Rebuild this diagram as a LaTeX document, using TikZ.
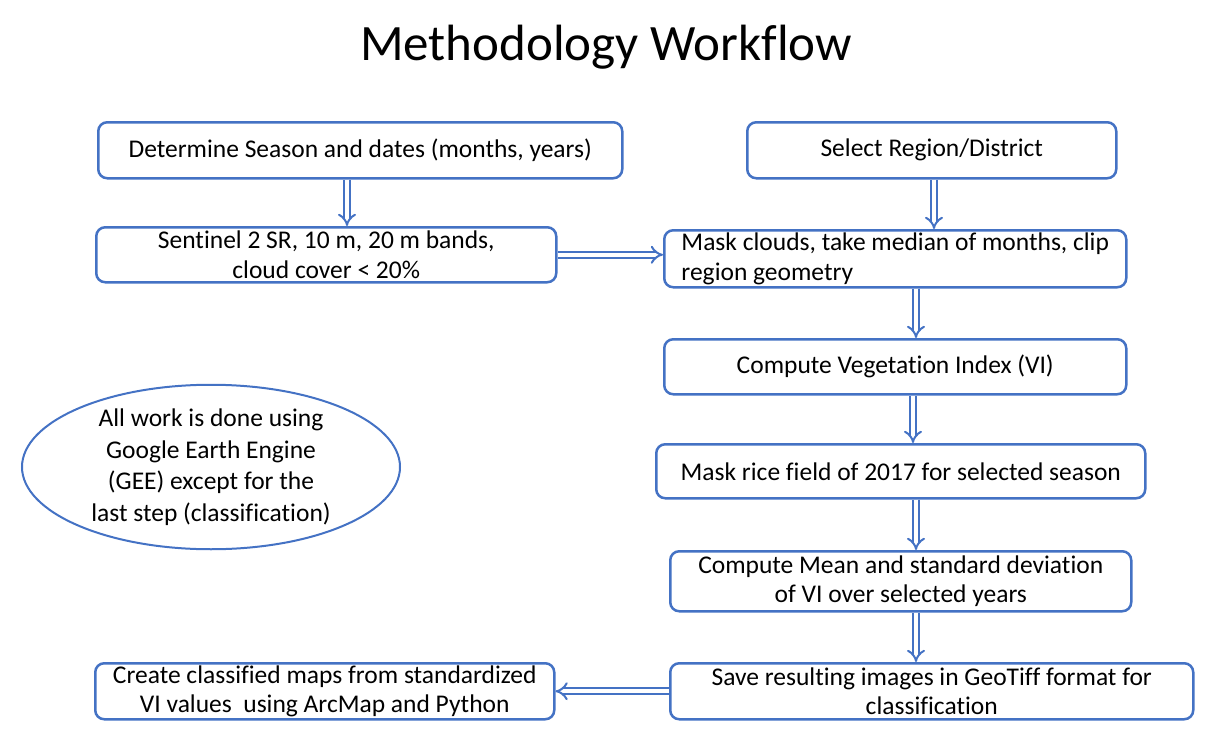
\documentclass[tikz,border=0pt]{standalone}
\usepackage{fontspec}
\setmainfont[Ligatures=NoCommon]{Carlito}
\usetikzlibrary{arrows.meta,shapes.geometric}
\definecolor{boxblue}{HTML}{4472C4}
\tikzset{
  stepbox/.style={draw=boxblue, line width=2.5pt, rounded corners=9pt, fill=white,
    font=\fontsize{25.5}{29.5}\selectfont, inner sep=0pt, anchor=north west},
  flow/.style={draw=boxblue, line width=2pt, double=white, double distance=4pt, -{Implies[length=10pt]}},
}
\begin{document}
\begin{tikzpicture}[x=1pt,y=-1pt]
\useasboundingbox (0,0) rectangle (1214,741);
\node[font=\fontsize{51}{56}\selectfont] (title) at (606,47) {Methodology Workflow};
% boxes
\node[stepbox, minimum width=524pt, minimum height=56pt] (season) at (97,121) {Determine Season and dates (months, years)};
\node[stepbox, minimum width=369pt, minimum height=56pt] (region) at (746,121) {Select Region/District};
\node[stepbox, minimum width=460pt, minimum height=55pt, align=center] (sentinel) at (95,226) {Sentinel 2 SR, 10 m, 20 m bands,\\cloud cover < 20\%};
\node[stepbox, minimum width=462pt, minimum height=57pt, align=left] (mask) at (663,229) {Mask clouds, take median of months, clip\\region geometry};
\node[stepbox, minimum width=462pt, minimum height=55pt] (vi) at (663,338) {Compute Vegetation Index (VI)};
\node[stepbox, minimum width=489pt, minimum height=54pt] (rice) at (655,443) {Mask rice field of 2017 for selected season};
\node[stepbox, minimum width=461pt, minimum height=60pt, align=center] (mean) at (669,550) {Compute Mean and standard deviation\\of VI over selected years};
\node[stepbox, minimum width=523pt, minimum height=56pt, align=center] (save) at (669,662) {Save resulting images in GeoTiff format for\\classification};
\node[stepbox, minimum width=459pt, minimum height=56pt, align=center] (classify) at (94,662) {Create classified maps from standardized\\VI values\ \ using ArcMap and Python};
\node[ellipse, draw=boxblue, line width=2pt, minimum width=378pt, minimum height=128pt, inner sep=0pt,
  align=center, font=\fontsize{25.5}{31.5}\selectfont] (note) at (211,467)
  {All work is done using\\Google Earth Engine\\(GEE) except for the\\last step (classification)};
% connectors
\draw[flow] (347,0 |- season.south) -- (347,0 |- sentinel.north);
\draw[flow] (934,0 |- region.south) -- (934,0 |- mask.north);
\draw[flow] (sentinel.east) -- (mask.west |- sentinel.east);
\draw[flow] (916,0 |- mask.south) -- (916,0 |- vi.north);
\draw[flow] (913,0 |- vi.south) -- (913,0 |- rice.north);
\draw[flow] (916,0 |- rice.south) -- (916,0 |- mean.north);
\draw[flow] (916,0 |- mean.south) -- (916,0 |- save.north);
\draw[flow] (save.west) -- (classify.east);
\end{tikzpicture}
\end{document}
